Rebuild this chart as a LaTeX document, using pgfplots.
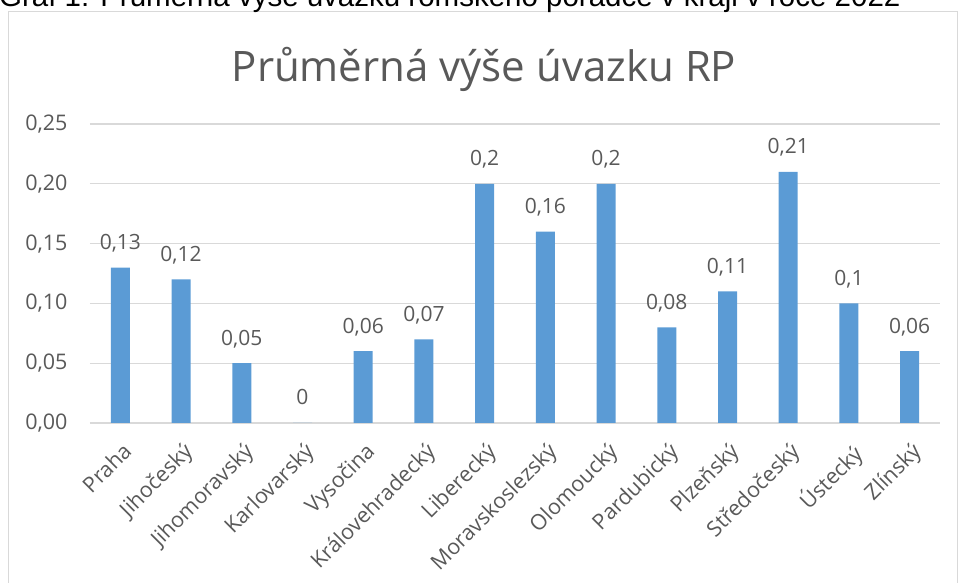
\documentclass[border=0pt]{standalone}
\usepackage{pgfplots}
\pgfplotsset{compat=1.18}
\usepackage{pgfplotstable}
\usepackage{fontspec}
\setmainfont{Open Sans}
\newfontfamily\capfont{Liberation Sans}
\definecolor{barc}{HTML}{5B9BD5}
\definecolor{txt}{HTML}{595959}
\definecolor{gridc}{HTML}{D9D9D9}

\pgfplotstableread{
x y lab
0 0.13 {0,13}
1 0.12 {0,12}
2 0.05 {0,05}
3 0 {0}
4 0.06 {0,06}
5 0.07 {0,07}
6 0.20 {0,2}
7 0.16 {0,16}
8 0.20 {0,2}
9 0.08 {0,08}
10 0.11 {0,11}
11 0.21 {0,21}
12 0.10 {0,1}
13 0.06 {0,06}
}\data

\begin{document}
\begin{tikzpicture}
\useasboundingbox (0,0) rectangle (959pt,583pt);
\clip (0,0) rectangle (959pt,583pt);
\draw[gridc, line width=1pt] (8.5pt,-20pt) rectangle (957.5pt,571pt);
\node[anchor=base west, inner sep=0, font=\capfont\fontsize{29.5}{34}\selectfont, text=black] at (-1pt,576pt) {Graf 1: Průměrná výše úvazku romského poradce v kraji v roce 2022};
\node[anchor=base, inner sep=0, font=\fontsize{42}{48}\selectfont, text=txt] at (484pt,501pt) {Průměrná výše úvazku RP};
\begin{axis}[
  at={(90pt,160pt)}, anchor=south west,
  scale only axis, width=850pt, height=299pt,
  xmin=-0.5, xmax=13.5, ymin=0, ymax=0.25,
  ytick={0,0.05,0.10,0.15,0.20,0.25},
  /pgf/number format/fixed, /pgf/number format/fixed zerofill,
  /pgf/number format/precision=2, /pgf/number format/use comma,
  /pgf/number format/assume math mode=true,
  xtick=data,
  xticklabels={Praha,Jihočeský,Jihomoravský,Karlovarský,Vysočina,Královehradecký,Liberecký,Moravskoslezský,Olomoucký,Pardubický,Plzeňský,Středočeský,Ústecký,Zlínský},
  xticklabel style={xshift=1pt, yshift=-18pt, rotate=45, anchor=north east, inner sep=0pt},
  ticklabel style={font=\fontsize{21.5}{25}\selectfont, text=txt},
  yticklabel style={xshift=-19pt},
  major tick length=0pt,
  axis line style={draw=none},
  ymajorgrids, grid style={gridc, line width=1.2pt},
  clip=false,
]
\addplot[ybar, bar width=19pt, fill=barc, draw=none,
  nodes near coords={\pgfplotspointmeta},
  point meta=explicit symbolic,
  every node near coord/.append style={font=\fontsize{21}{25}\selectfont, text=txt, anchor=base, inner sep=0pt, yshift=18pt}
] table[x=x, y=y, meta=lab] {\data};
\end{axis}
\end{tikzpicture}
\end{document}
